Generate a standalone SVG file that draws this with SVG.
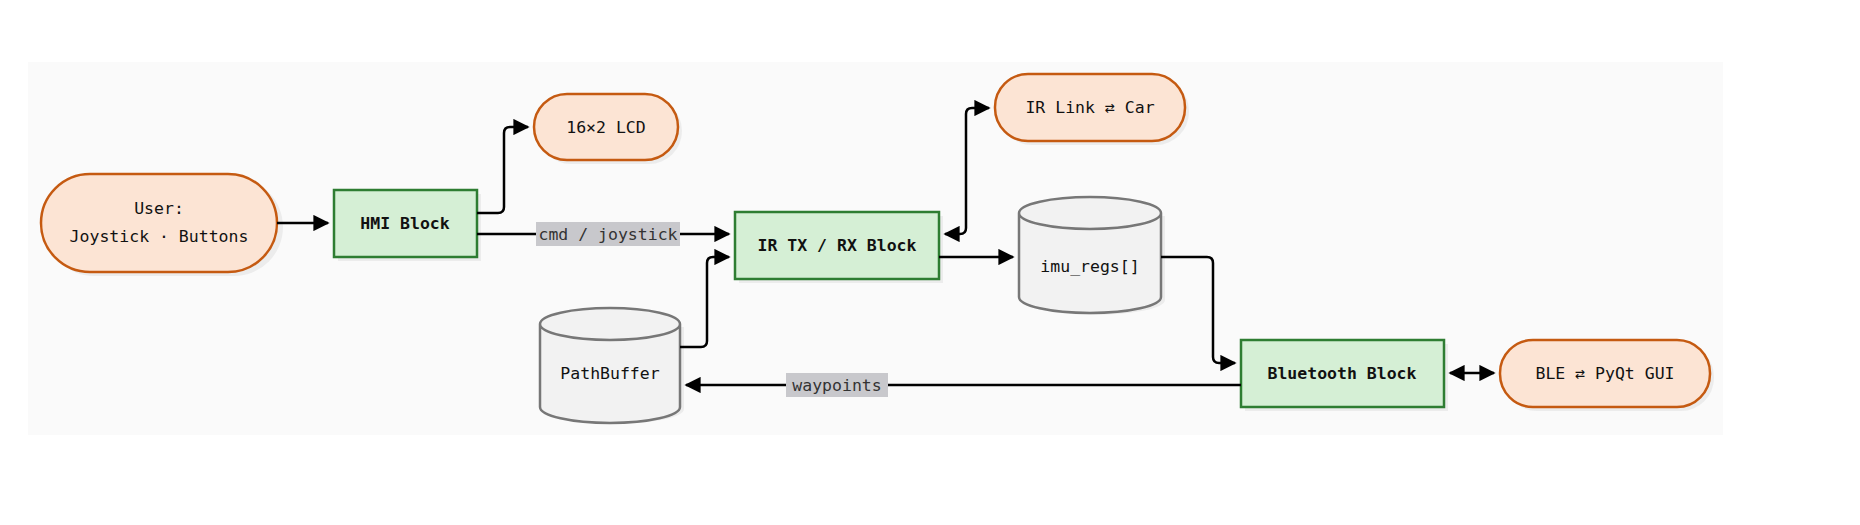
<svg xmlns="http://www.w3.org/2000/svg" width="1860" height="525" viewBox="0 0 1860 525">
<style>
text{font-family:"DejaVu Sans Mono","Liberation Mono",monospace;font-size:16.5px;fill:#111;text-anchor:middle;dominant-baseline:central}
.b{font-weight:bold}
.pill{fill:#fce4d4;stroke:#c55a11;stroke-width:2.5}
.blk{fill:#d5efd5;stroke:#2e7d32;stroke-width:2.5}
.cyl{fill:#f2f2f2;stroke:#777;stroke-width:2.5}
.sh{fill:#ececec;stroke:none}
.ln{fill:none;stroke:#000;stroke-width:2.5;stroke-linejoin:round}
.lbl{fill:#c8c8cc}
.lt{fill:#333}
</style>
<defs>
<marker id="a" viewBox="0 0 10 10" refX="9" refY="5" markerWidth="6.5" markerHeight="6.5" orient="auto-start-reverse"><path d="M0,0 L10,5 L0,10 z" fill="#000"/></marker>
</defs>
<g transform="translate(0,-3)">
<rect x="28" y="65" width="1695" height="373" fill="#fafafa"/>
<g id="user"><rect class="sh" x="45" y="181" width="238" height="98" rx="49"/><rect class="pill" x="41" y="177" width="236" height="98" rx="49"/><text x="159" y="211">User:</text><text x="159" y="239">Joystick · Buttons</text></g>
<g id="hmi"><rect class="sh" x="338" y="197" width="143" height="67"/><rect class="blk" x="334" y="193" width="143" height="67"/><text class="b" x="405" y="226">HMI Block</text></g>
<g id="lcd"><rect class="sh" x="538" y="101" width="144" height="66" rx="33"/><rect class="pill" x="534" y="97" width="144" height="66" rx="33"/><text x="606" y="130">16×2 LCD</text></g>
<g id="irtx"><rect class="sh" x="739" y="219" width="204" height="67"/><rect class="blk" x="735" y="215" width="204" height="67"/><text class="b" x="837" y="248">IR TX / RX Block</text></g>
<g id="irlink"><rect class="sh" x="999" y="81" width="190" height="67" rx="33"/><rect class="pill" x="995" y="77" width="190" height="67" rx="33"/><text x="1090" y="110">IR Link ⇄ Car</text></g>
<g id="imu"><path class="sh" d="M1023,219 v84 a71,15 0 0 0 142,0 v-84 z"/><path class="cyl" d="M1019,216 v84 a71,16 0 0 0 142,0 v-84 a71,16 0 0 0 -142,0 a71,16 0 0 0 142,0"/><text x="1090" y="269">imu_regs[]</text></g>
<g id="pathbuffer"><path class="sh" d="M544,330 v82 a70,15 0 0 0 140,0 v-82 z"/><path class="cyl" d="M540,327 v83 a70,16 0 0 0 140,0 v-83 a70,16 0 0 0 -140,0 a70,16 0 0 0 140,0"/><text x="610" y="376">PathBuffer</text></g>
<g id="bt"><rect class="sh" x="1245" y="347" width="203" height="67"/><rect class="blk" x="1241" y="343" width="203" height="67"/><text class="b" x="1342" y="376">Bluetooth Block</text></g>
<g id="ble"><rect class="sh" x="1504" y="347" width="210" height="67" rx="33"/><rect class="pill" x="1500" y="343" width="210" height="67" rx="33"/><text x="1605" y="376">BLE ⇄ PyQt GUI</text></g>
<g id="connectors">
<path class="ln" d="M277,226 H328" marker-end="url(#a)"/>
<path class="ln" d="M477,216 H498 Q504,216 504,210 V136 Q504,130 510,130 H528" marker-end="url(#a)"/>
<path class="ln" d="M477,237 H729" marker-end="url(#a)"/>
<rect class="lbl" x="536" y="225" width="144" height="24"/><text class="lt" x="608" y="237">cmd / joystick</text>
<path class="ln" d="M680,350 H701 Q707,350 707,344 V266 Q707,260 713,260 H729" marker-end="url(#a)"/>
<path class="ln" d="M945,237 H960 Q966,237 966,231 V117 Q966,111 972,111 H989" marker-start="url(#a)" marker-end="url(#a)"/>
<path class="ln" d="M939,260 H1013" marker-end="url(#a)"/>
<path class="ln" d="M1161,260 H1207 Q1213,260 1213,266 V360 Q1213,366 1219,366 H1235" marker-end="url(#a)"/>
<path class="ln" d="M1450,376 H1494" marker-start="url(#a)" marker-end="url(#a)"/>
<path class="ln" d="M1241,388 H686" marker-end="url(#a)"/>
<rect class="lbl" x="786" y="376" width="102" height="24"/><text class="lt" x="837" y="388">waypoints</text>
</g>
</g>
</svg>
